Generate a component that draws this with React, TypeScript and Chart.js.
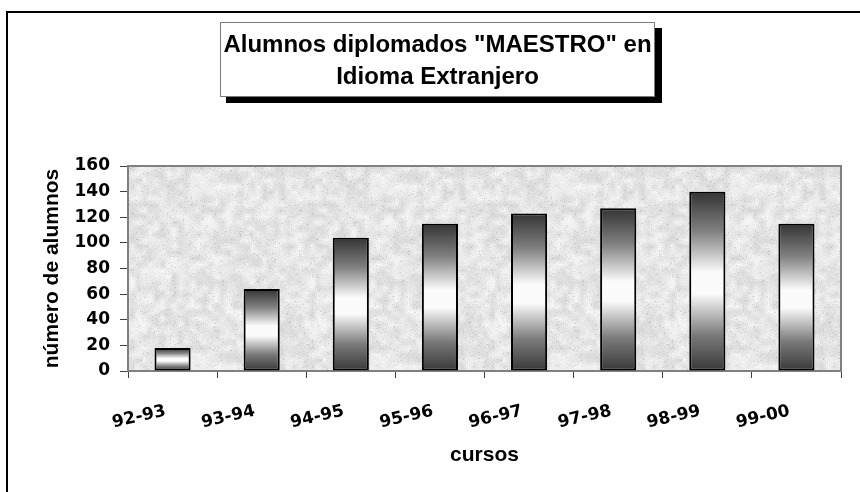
import React, { useEffect, useRef } from 'react';
import { Chart, registerables } from 'chart.js';

Chart.register(...registerables);

const TITLE_LINES = ['Alumnos diplomados "MAESTRO" en', 'Idioma Extranjero'];
const CATEGORIES = ['92-93', '93-94', '94-95', '95-96', '96-97', '97-98', '98-99', '99-00'];
const ALUMNOS = [18, 64, 104, 115, 123, 127, 140, 115];
const Y_MIN = 0;
const Y_MAX = 160;
const Y_STEP = 20;
const Y_TITLE = 'número de alumnos';
const X_TITLE = 'cursos';

const TICK_FONT = { family: '"DejaVu Sans", sans-serif', weight: 'bold' as const, size: 17 };
const AXIS_TITLE_FONT = { family: '"Liberation Sans", Arial, sans-serif', weight: 'bold' as const, size: 21 };

function makeTexture(): HTMLCanvasElement {
  const size = 180;
  const cell = 6;
  const n = size / cell;
  const c = document.createElement('canvas');
  c.width = size;
  c.height = size;
  const g = c.getContext('2d')!;
  const img = g.createImageData(size, size);
  const hash = (x: number, y: number) => {
    const s = Math.sin(x * 127.1 + y * 311.7) * 43758.5453;
    return s - Math.floor(s);
  };
  const coarse = (x: number, y: number) => {
    const fx = x / cell;
    const fy = y / cell;
    const ix = Math.floor(fx);
    const iy = Math.floor(fy);
    const tx = fx - ix;
    const ty = fy - iy;
    const a = hash(ix % n, iy % n);
    const b = hash((ix + 1) % n, iy % n);
    const cc = hash(ix % n, (iy + 1) % n);
    const d = hash((ix + 1) % n, (iy + 1) % n);
    return (a * (1 - tx) + b * tx) * (1 - ty) + (cc * (1 - tx) + d * tx) * ty;
  };
  for (let y = 0; y < size; y++) {
    for (let x = 0; x < size; x++) {
      const f = hash(x + 1000, y + 2000);
      const s = hash(x + 500, y + 700);
      let v = 230 + (coarse(x, y) - 0.5) * 30 + (f - 0.5) * 14;
      if (s > 0.975) v -= 26;
      v = Math.max(178, Math.min(250, v));
      const i = (y * size + x) * 4;
      img.data[i] = v;
      img.data[i + 1] = v;
      img.data[i + 2] = v;
      img.data[i + 3] = 255;
    }
  }
  g.putImageData(img, 0, 0);
  return c;
}

export default function App() {
  const ref = useRef<HTMLCanvasElement | null>(null);

  useEffect(() => {
    const canvas = ref.current;
    if (!canvas) return;
    const texture = makeTexture();

    const decor = {
      id: 'decor',
      beforeDraw(chart: any) {
        const { ctx, chartArea: a, width, height } = chart;
        ctx.save();
        ctx.fillStyle = '#ffffff';
        ctx.fillRect(0, 0, width, height);
        // outer frame
        ctx.strokeStyle = '#000';
        ctx.lineWidth = 2;
        ctx.beginPath();
        ctx.moveTo(7, height + 4);
        ctx.lineTo(7, 12);
        ctx.lineTo(width + 4, 12);
        ctx.stroke();
        // title box with shadow
        ctx.fillStyle = '#000';
        ctx.fillRect(226, 28, 436, 75);
        ctx.fillStyle = '#fff';
        ctx.fillRect(220, 22, 435, 75);
        ctx.strokeStyle = '#7a7a7a';
        ctx.lineWidth = 1;
        ctx.strokeRect(220.5, 22.5, 434, 74);
        ctx.fillStyle = '#000';
        ctx.font = 'bold 24px "Liberation Sans", Arial, sans-serif';
        ctx.textAlign = 'center';
        ctx.textBaseline = 'alphabetic';
        ctx.fillText(TITLE_LINES[0], 437.5, 52);
        ctx.fillText(TITLE_LINES[1], 437.5, 84);
        // plot area texture
        const pat = ctx.createPattern(texture, 'repeat');
        if (pat) {
          ctx.fillStyle = pat;
          ctx.fillRect(a.left, a.top, a.right - a.left, a.bottom - a.top);
        }
        ctx.restore();
      },
      beforeDatasetsDraw(chart: any) {
        const { ctx, chartArea: a } = chart;
        ctx.save();
        ctx.strokeStyle = '#808080';
        ctx.lineWidth = 2;
        ctx.beginPath();
        ctx.moveTo(a.left, a.top);
        ctx.lineTo(a.right, a.top);
        ctx.lineTo(a.right, a.bottom);
        ctx.stroke();
        ctx.restore();
      },
    };

    const chart = new Chart(canvas, {
      type: 'bar',
      data: {
        labels: CATEGORIES,
        datasets: [
          {
            data: ALUMNOS,
            backgroundColor: (c: any) => {
              const ch = c.chart;
              const ys = ch.scales?.y;
              if (!ys || c.type !== 'data') return '#888';
              const top = ys.getPixelForValue(c.raw);
              const base = ys.getPixelForValue(0);
              if (!isFinite(top) || !isFinite(base) || top === base) return '#888';
              const g = ch.ctx.createLinearGradient(0, top, 0, base);
              g.addColorStop(0, '#333333');
              g.addColorStop(0.22, '#808080');
              g.addColorStop(0.45, '#fbfbfb');
              g.addColorStop(0.57, '#fbfbfb');
              g.addColorStop(0.8, '#7a7a7a');
              g.addColorStop(1, '#383838');
              return g;
            },
            borderColor: '#000',
            borderWidth: 2,
            borderSkipped: false,
            barPercentage: 0.405,
            categoryPercentage: 1,
          },
        ],
      },
      options: {
        responsive: false,
        animation: false,
        devicePixelRatio: 1,
        layout: { padding: { top: 166, right: 19, bottom: 0, left: 0 } },
        plugins: {
          legend: { display: false },
          tooltip: { enabled: false },
          title: { display: false },
        },
        scales: {
          x: {
            ticks: {
              color: '#000',
              font: TICK_FONT,
              minRotation: 13,
              maxRotation: 13,
              padding: 23,
              labelOffset: -7,
              autoSkip: false,
            },
            grid: {
              offset: true,
              drawOnChartArea: false,
              drawTicks: true,
              tickLength: 7,
              color: '#404040',
              lineWidth: 1,
            },
            border: { display: true, color: '#808080', width: 2 },
            title: {
              display: true,
              text: X_TITLE,
              color: '#000',
              font: AXIS_TITLE_FONT,
              padding: { top: 0, bottom: 24 },
            },
            afterFit(scale: any) {
              scale.height = 121;
            },
          },
          y: {
            min: Y_MIN,
            max: Y_MAX,
            ticks: {
              stepSize: Y_STEP,
              color: '#000',
              font: TICK_FONT,
              padding: 10,
            },
            grid: {
              drawOnChartArea: false,
              drawTicks: true,
              tickLength: 8,
              color: '#404040',
              lineWidth: 1,
            },
            border: { display: true, color: '#808080', width: 2 },
            title: {
              display: true,
              text: Y_TITLE,
              color: '#000',
              font: AXIS_TITLE_FONT,
              padding: { top: 40, bottom: 0 },
            },
            afterFit(scale: any) {
              scale.width = 128;
            },
          },
        },
      },
      plugins: [decor],
    } as any);

    return () => chart.destroy();
  }, []);

  return (
    <div style={{ position: 'absolute', left: 0, top: 0, width: 860, height: 492 }}>
      <canvas ref={ref} width={860} height={492} style={{ width: 860, height: 492, display: 'block' }} />
    </div>
  );
}
